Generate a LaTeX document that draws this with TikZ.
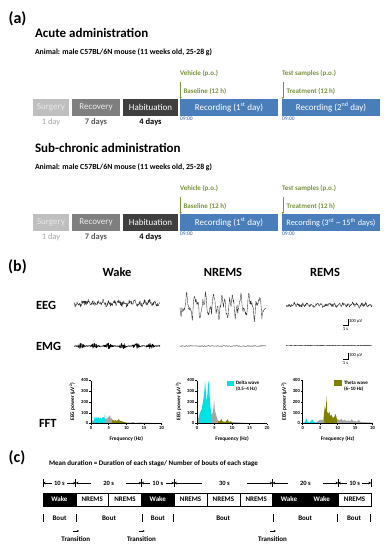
\documentclass[tikz,border=0pt]{standalone}
\usepackage{fontspec}
\setmainfont{Carlito}
\usetikzlibrary{arrows.meta,calc}
\definecolor{surgfill}{HTML}{BFBFBF}
\definecolor{surgtext}{HTML}{E8E8E8}
\definecolor{recofill}{HTML}{7F7F7F}
\definecolor{habifill}{HTML}{3F3F3F}
\definecolor{recfill}{HTML}{4A7EBB}
\definecolor{gtext}{HTML}{77933C}
\definecolor{btext}{HTML}{2E5FA8}
\definecolor{dtextA}{HTML}{A6A6A6}
\definecolor{dtextB}{HTML}{595959}
\definecolor{cyanf}{HTML}{00E1E6}
\definecolor{olivef}{HTML}{7F7F00}
\definecolor{grayf}{HTML}{A5A5A5}
\definecolor{tracec}{HTML}{303030}
\newcommand\myfs[1]{\fontsize{#1}{#1}\selectfont}

\newcommand\mytimeline[4]{%
  \node[anchor=west, font=\bfseries\myfs{13}] (#1title) at (35,#2-66) {#4};
  \node[anchor=west, font=\bfseries\myfs{7.8}] (#1animal) at (35,#2-47) {Animal: male C57BL/6N mouse (11 weeks old, 25-28 g)};
  \node[stage, fill=surgfill, text=surgtext, minimum width=36] (#1surg) at (51,#2+8.5) {Surgery};
  \node[stage, fill=recofill, text=white!92!black, minimum width=48] (#1reco) at (96,#2+8.5) {Recovery};
  \node[stage, fill=habifill, text=white, minimum width=55] (#1habi) at (150.5,#2+8.5) {Habituation};
  \node[stage, fill=recfill, text=white, minimum width=98] (#1rec1) at (229,#2+8.5) {Recording (1\textsuperscript{st} day)};
  \node[stage, fill=recfill, text=white, minimum width=98] (#1rec2) at (331,#2+8.5) {#3};
  \node[font=\myfs{8.5}, text=dtextA] (#1d1) at (51,#2+23) {1 day};
  \node[font=\bfseries\myfs{8.5}, text=dtextB] (#1d2) at (96,#2+23) {7 days};
  \node[font=\bfseries\myfs{8.5}, text=black] (#1d3) at (150.5,#2+23) {4 days};
  \node[anchor=west, font=\myfs{5.5}, text=btext] (#1t1) at (180,#2+20) {09:00};
  \node[anchor=west, font=\myfs{5.5}, text=btext] (#1t2) at (282,#2+20) {09:00};
  \node[glbl] (#1veh) at (180,#2-26) {Vehicle (p.o.)};
  \node[glbl] (#1base) at (183.5,#2-8) {Baseline (12 h)};
  \node[glbl] (#1test) at (282,#2-26) {Test samples (p.o.)};
  \node[glbl] (#1treat) at (286.5,#2-8) {Treatment (12 h)};
  \coordinate (#1va) at (180.6,#2-17);
  \coordinate (#1vb) at (282.8,#2-17);
  \draw[garrow] (#1va) -- (#1va |- #1rec1.north);
  \draw[garrow] (#1vb) -- (#1vb |- #1rec2.north);
}

\newcommand\myaxes[1]{%
  \draw[axln] (0,0) -- (0,400);
  \draw[axln] (0,0) -- (20,0);
  \foreach \v in {0,100,200,300,400} {\draw[axln] (0,\v) -- ++(-1.8pt,0) node[ticklbl, anchor=east, xshift=-1pt] (#1y\v) {\v};}
  \foreach \v in {0,5,10,15,20} {\draw[axln] (\v,0) -- ++(0,-1.8pt) node[ticklbl, anchor=north, yshift=-0.8pt] (#1x\v) {\v};}
  \node[axlbl] (#1xl) at (10,-140) {Frequency (Hz)};
  \node[axlbl, rotate=90] (#1yl) at (-5.3,205) {EEG power (μV\textsuperscript{2})};
}

\begin{document}
\begin{tikzpicture}[x=1pt,y=-1pt,
  every node/.style={inner sep=0pt, outer sep=0pt},
  stage/.style={minimum height=17, font=\myfs{9}},
  glbl/.style={anchor=west, font=\bfseries\myfs{7}, text=gtext},
  garrow/.style={draw=gtext, line width=0.6pt, -{Stealth[length=2.2pt,width=2.4pt]}},
  plbl/.style={font=\bfseries\myfs{16}},
  hlbl/.style={font=\bfseries\myfs{12.5}},
  trace/.style={draw=tracec, line width=0.35pt, line join=round},
  emgtrace/.style={draw=black, line width=0.45pt, line join=round},
  scalebar/.style={draw=black, line width=0.5pt},
  sclbl/.style={font=\myfs{4.6}},
  axln/.style={draw=black, line width=0.45pt},
  ticklbl/.style={font=\bfseries\myfs{4.6}},
  axlbl/.style={font=\bfseries\myfs{5.4}},
  leglbl/.style={anchor=west, font=\bfseries\myfs{5}},
  wakebox/.style={draw=black, fill=black, text=white, minimum width=32.8, minimum height=13, font=\bfseries\myfs{7}, line width=0.6pt},
  nrbox/.style={draw=black, fill=white, text=black, minimum width=32.8, minimum height=13, font=\bfseries\myfs{7}, line width=0.6pt},
  seglbl/.style={font=\bfseries\myfs{6.5}},
  dimarr/.style={draw=black, line width=0.6pt, -{Stealth[length=2.6pt,width=2.8pt]}},
  barln/.style={draw=black, line width=0.7pt},
  cfont/.style={font=\bfseries\myfs{7}},
  tarr/.style={draw=black, line width=0.5pt, -{Stealth[length=2pt,width=2.2pt]}}
]
\useasboundingbox (0,0) rectangle (386,550);
\fill[white] (0,0) rectangle (386,550);

% ---------------- (a)
\node[plbl] (alabel) at (17.5,18.5) {(a)};
\mytimeline{ac}{99}{Recording (2\textsuperscript{nd} day)}{Acute administration}
\mytimeline{sc}{214}{\myfs{8.3}Recording (3\textsuperscript{rd} \textasciitilde{} 15\textsuperscript{th} days)}{Sub-chronic administration}

% ---------------- (b)
\node[plbl] (blabel) at (17.5,267) {(b)};
\node[hlbl] (hwake) at (117,272) {Wake};
\node[hlbl] (hnrem) at (223,272) {NREMS};
\node[hlbl] (hrem) at (325,272) {REMS};
\node[hlbl, anchor=west] (reeg) at (36,305) {EEG};
\node[hlbl, anchor=west] (remg) at (36,346) {EMG};
\node[hlbl, anchor=west] (rfft) at (39,423) {FFT};

\pgfmathsetseed{7}
\draw[trace] plot[domain=0:86, samples=260, smooth] ({74+\x}, {303 + 2.3*rand + 1.4*sin(70*\x) + 1.0*sin(23*\x)});
\draw[trace] plot[domain=0:86, samples=230] ({180+\x}, {306 + 7.5*sin(40*\x) + 4.5*sin(93*\x+20) + 2.5*sin(151*\x) + 2.5*rand});
\draw[trace] plot[domain=0:86, samples=260, smooth] ({286+\x}, {305 + 1.7*rand + 1.0*sin(80*\x) + 0.8*sin(31*\x)});

\draw[emgtrace] plot[domain=0:86, samples=420] ({74+\x}, {346 + rand*(0.4 + 2.6*abs(sin(13*\x))^3)});
\draw[emgtrace, line width=0.35pt] plot[domain=0:86, samples=120] ({180+\x}, {346 + 0.35*rand});
\draw[emgtrace, line width=0.35pt] plot[domain=0:86, samples=120] ({286+\x}, {345.5 + 0.35*rand});

% scale bars
\coordinate (sb1a) at (343,325);
\coordinate (sb1b) at (348,325);
\coordinate (sb1c) at (348,318.5);
\draw[scalebar] (sb1a) -- (sb1b) -- (sb1c);
\node[sclbl, anchor=west] (sb1v) at (349,321) {100 μV};
\node[sclbl] (sb1s) at (345.5,329) {1 s};
\coordinate (sb2a) at (343,359);
\coordinate (sb2b) at (348,359);
\coordinate (sb2c) at (348,352.5);
\draw[scalebar] (sb2a) -- (sb2b) -- (sb2c);
\node[sclbl, anchor=west] (sb2v) at (349,355) {100 μV};
\node[sclbl] (sb2s) at (345.5,363) {1 s};

% spectra: wake
\begin{scope}[shift={(91,423.5)}, x=3.535pt, y=0.1075pt]
  \fill[grayf] plot coordinates {(0,0)(0.1,25)(0.3,35)(0.5,20)(0.5,0)} -- cycle;
  \fill[cyanf] plot coordinates {(0.5,0)(0.6,20)(0.9,40)(1.1,65)(1.3,40)(1.5,58)(1.8,45)(2,62)(2.3,45)(2.6,55)(2.9,42)(3.2,52)(3.5,62)(3.8,45)(3.95,100)(4,0)} -- cycle;
  \fill[grayf] plot coordinates {(4,0)(4,40)(4.5,45)(5,62)(5.3,75)(5.6,50)(6,45)(6,0)} -- cycle;
  \fill[olivef] plot coordinates {(6,0)(6,35)(6.5,25)(7,32)(7.3,20)(7.8,40)(8.2,25)(8.7,22)(9.2,15)(9.6,12)(10,10)(10,0)} -- cycle;
  \fill[grayf] plot coordinates {(10,0)(10,10)(11,8)(12,13)(12.5,6)(13,7)(14,10)(15,7)(16,9)(17,6)(18,7)(19,5)(20,4)(20,0)} -- cycle;
  \myaxes{pw}
\end{scope}

% spectra: NREMS
\begin{scope}[shift={(197,423.5)}, x=3.5pt, y=0.1075pt]
  \fill[grayf] plot coordinates {(0,0)(0.1,40)(0.3,60)(0.5,50)(0.5,0)} -- cycle;
  \fill[cyanf] plot coordinates {(0.5,0)(0.5,60)(0.8,100)(1,110)(1.3,130)(1.6,180)(1.9,250)(2.1,300)(2.3,400)(2.5,310)(2.7,200)(2.9,250)(3.1,330)(3.3,400)(3.5,350)(3.7,200)(3.9,140)(4,120)(4,0)} -- cycle;
  \fill[grayf] plot coordinates {(4,0)(4,100)(4.3,80)(4.6,120)(4.9,220)(5.1,120)(5.4,90)(5.7,50)(6,30)(6,0)} -- cycle;
  \fill[olivef] plot coordinates {(6,0)(6,25)(6.5,20)(7,40)(7.3,20)(7.8,15)(8.3,20)(8.7,40)(9.1,15)(9.6,20)(10,15)(10,0)} -- cycle;
  \fill[grayf] plot coordinates {(10,0)(10,15)(11,12)(12,10)(13,8)(14,6)(15,5)(16,4)(17,4)(18,3)(19,3)(20,2)(20,0)} -- cycle;
  \myaxes{pn}
\end{scope}
\fill[cyanf] (227,380.5) rectangle (233.5,386);
\node[leglbl] (legd1) at (236,383) {Delta wave};
\node[leglbl] (legd2) at (236,389.5) {(0.5--4 Hz)};

% spectra: REMS
\begin{scope}[shift={(302.7,423.5)}, x=3.5pt, y=0.1075pt]
  \fill[grayf] plot coordinates {(0,0)(0.2,10)(0.5,8)(0.5,0)} -- cycle;
  \fill[cyanf] plot coordinates {(0.5,0)(0.5,10)(0.8,30)(1,50)(1.3,20)(1.7,10)(2,10)(2.5,30)(2.8,35)(3.1,15)(3.5,10)(4,15)(4,0)} -- cycle;
  \fill[grayf] plot coordinates {(4,0)(4,15)(4.5,25)(5,35)(5.5,30)(6,40)(6,0)} -- cycle;
  \fill[olivef] plot coordinates {(6,0)(6,60)(6.3,160)(6.6,120)(6.8,250)(7,110)(7.3,90)(7.6,110)(7.9,70)(8.3,80)(8.6,50)(9,60)(9.4,90)(9.7,50)(10,30)(10,0)} -- cycle;
  \fill[grayf] plot coordinates {(10,0)(10,40)(10.5,30)(11,45)(11.5,25)(12,35)(12.5,20)(13,30)(13.5,20)(14,40)(14.5,20)(15,25)(15.5,15)(16,35)(16.5,15)(17,15)(18,12)(19,10)(20,8)(20,0)} -- cycle;
  \myaxes{pr}
\end{scope}
\fill[olivef] (334,380) rectangle (342,385.5);
\node[leglbl] (legt1) at (344,383) {Theta wave};
\node[leglbl] (legt2) at (344,389.5) {(6--10 Hz)};

% ---------------- (c)
\node[plbl] (clabel) at (17,458) {(c)};
\node[cfont, anchor=west] (meandur) at (49,464) {Mean duration = Duration of each stage/ Number of bouts of each stage};

\node[wakebox] (c1) at (59.4,499.5) {Wake};
\node[nrbox] (c2) at (92.2,499.5) {NREMS};
\node[nrbox] (c3) at (125,499.5) {NREMS};
\node[wakebox] (c4) at (157.8,499.5) {Wake};
\node[nrbox] (c5) at (190.6,499.5) {NREMS};
\node[nrbox] (c6) at (223.4,499.5) {NREMS};
\node[nrbox] (c7) at (256.2,499.5) {NREMS};
\node[wakebox] (c8) at (289,499.5) {Wake};
\node[wakebox] (c9) at (321.8,499.5) {Wake};
\node[nrbox] (c10) at (354.6,499.5) {NREMS};

% duration row
\coordinate (d0) at (43,483);
\coordinate (d1) at (75.8,483);
\coordinate (d3) at (141.4,483);
\coordinate (d4) at (174.2,483);
\coordinate (d7) at (272.6,483);
\coordinate (d9) at (338.2,483);
\coordinate (d10) at (371,483);
\foreach \d in {d0,d1,d3,d4,d7,d9,d10} {\draw[barln] (\d) ++(0,-4) -- ++(0,8);}
\node[seglbl, inner xsep=2.5pt] (s1) at (59.4,483) {10 s};
\node[seglbl, inner xsep=12pt] (s2) at (108.6,483) {20 s};
\node[seglbl, inner xsep=2.5pt] (s3) at (157.8,483) {10 s};
\node[seglbl, inner xsep=17pt] (s4) at (224.5,483) {30 s};
\node[seglbl, inner xsep=12pt] (s5) at (305.4,483) {20 s};
\node[seglbl, inner xsep=2.5pt] (s6) at (354.6,483) {10 s};
\draw[dimarr] (s1.west) -- (d0);  \draw[dimarr] (s1.east) -- (d1);
\draw[dimarr] (s2.west) -- (d1);  \draw[dimarr] (s2.east) -- (d3);
\draw[dimarr] (s3.west) -- (d3);  \draw[dimarr] (s3.east) -- (d4);
\draw[dimarr] (s4.west) -- (d4);  \draw[dimarr] (s4.east) -- (d7);
\draw[dimarr] (s5.west) -- (d7);  \draw[dimarr] (s5.east) -- (d9);
\draw[dimarr] (s6.west) -- (d9);  \draw[dimarr] (s6.east) -- (d10);

% bout row
\foreach \bx in {43,76,142,173.5,273,337.5,370.5} {\draw[barln] (\bx,514) -- (\bx,522);}
\node[cfont] (bo1) at (59.5,518) {Bout};
\node[cfont] (bo2) at (109,518) {Bout};
\node[cfont] (bo3) at (157.8,518) {Bout};
\node[cfont] (bo4) at (223.2,518) {Bout};
\node[cfont] (bo5) at (305.2,518) {Bout};
\node[cfont] (bo6) at (354,518) {Bout};

% transitions
\node[cfont] (tr1) at (75.8,539) {Transition};
\node[cfont] (tr2) at (141.4,539) {Transition};
\node[cfont] (tr3) at (272.6,539) {Transition};
\coordinate (ta1) at (73,531); \coordinate (tb1) at (79,531);
\coordinate (ta2) at (138.6,531); \coordinate (tb2) at (144.6,531);
\coordinate (ta3) at (269.8,531); \coordinate (tb3) at (275.8,531);
\draw[tarr] (ta1) -- (tb1);
\draw[tarr] (ta2) -- (tb2);
\draw[tarr] (ta3) -- (tb3);
\end{tikzpicture}
\end{document}
